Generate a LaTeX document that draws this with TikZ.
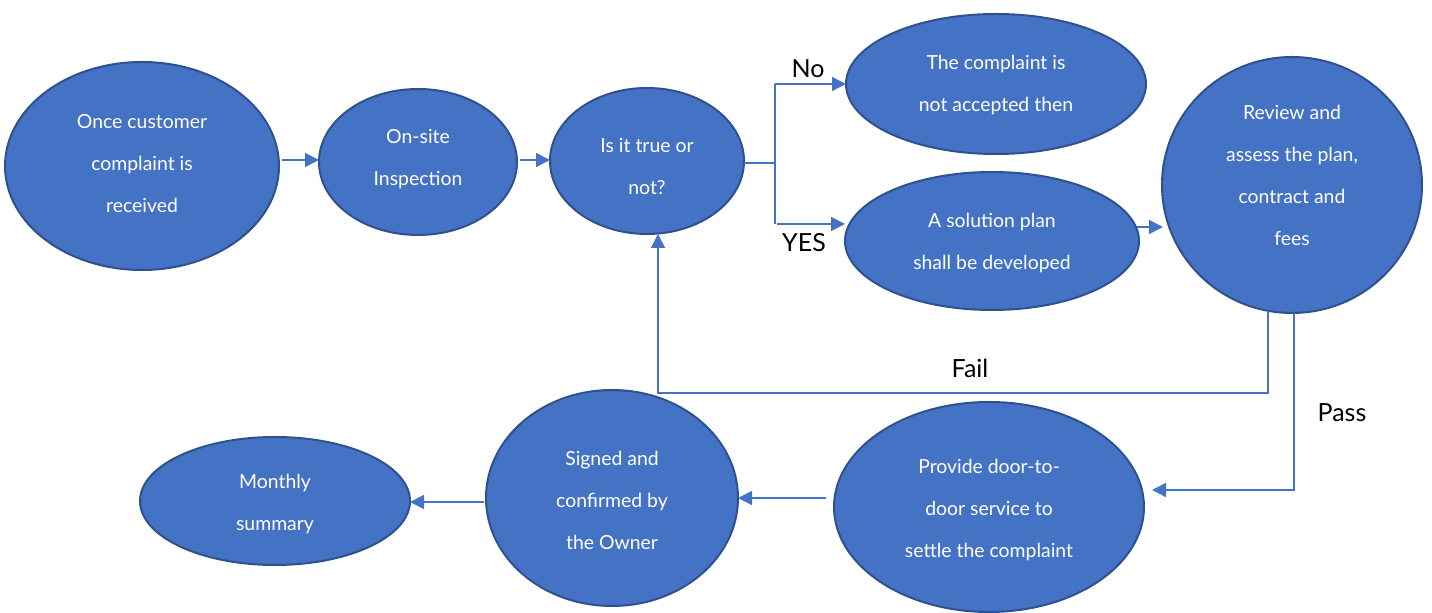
\documentclass[tikz,border=0pt]{standalone}
\usepackage{fontspec}
\setmainfont{Lato}
\usetikzlibrary{arrows.meta,calc,shapes.geometric}

\definecolor{bfill}{HTML}{4472C4}
\definecolor{bedge}{HTML}{2F528F}
\definecolor{lineblue}{HTML}{4472C4}

\tikzset{
  stage/.style={ellipse, draw=bedge, line width=1pt, fill=bfill,
    inner sep=0pt, outer sep=0pt},
  stagetext/.style={text=white, font=\fontsize{9.7}{21}\selectfont,
    align=center, inner sep=0pt},
  conn/.style={draw=lineblue, line width=0.75pt,
    -{Triangle[length=7pt,width=7pt]}},
  plain/.style={draw=lineblue, line width=0.75pt},
  tag/.style={font=\fontsize{12.5}{14}\selectfont, text=black}
}

\begin{document}
\begin{tikzpicture}[x=0.5pt, y=-0.5pt]
  \useasboundingbox (0,0) rectangle (1432,613);

  % stages of the complaint procedure
  \node[stage, minimum width=137pt, minimum height=104pt] (recv) at (142,166) {};
  \node[stage, minimum width=99pt, minimum height=73pt] (insp) at (418,162) {};
  \node[stage, minimum width=97pt, minimum height=73pt] (true) at (647,161) {};
  \node[stage, minimum width=150pt, minimum height=70pt] (rej) at (996,84) {};
  \node[stage, minimum width=147pt, minimum height=69pt] (plan) at (992,241) {};
  \node[stage, minimum width=130pt, minimum height=128pt] (rev) at (1292,185) {};
  \node[stage, minimum width=155pt, minimum height=105pt] (door) at (989,507) {};
  \node[stage, minimum width=126pt, minimum height=108pt] (sign) at (612,498) {};
  \node[stage, minimum width=135pt, minimum height=64pt] (month) at (275,501) {};

  % texts inside the stages
  \node[stagetext] (recvt) at ($(recv)+(0,-2)$) {Once customer\\complaint is\\received};
  \node[stagetext] (inspt) at ($(insp)+(0,-3)$) {On-site\\Inspection};
  \node[stagetext] (truet) at ($(true)+(0,6)$) {Is it true or\\not?};
  \node[stagetext] (rejt) at ($(rej)+(0,1)$) {The complaint is\\not accepted then};
  \node[stagetext] (plant) at ($(plan)+(0,2)$) {A solution plan\\shall be developed};
  \node[stagetext] (revt) at ($(rev)+(0,-10)$) {Review and\\assess the plan,\\contract and\\fees};
  \node[stagetext] (doort) at ($(door)+(0,3)$) {Provide door-to-\\door service to\\settle the complaint};
  \node[stagetext] (signt) at ($(sign)+(0,2)$) {Signed and\\confirmed by\\the Owner};
  \node[stagetext] (montht) at ($(month)+(0,3)$) {Monthly\\summary};

  % straight connectors
  \draw[conn] ([xshift=1.5pt]recv.east |- 0,160) -- (insp.west |- 0,160);
  \draw[conn] ([xshift=1.5pt]insp.east |- 0,160) -- (true.west |- 0,160);
  \draw[conn] ([xshift=-4pt]door.west |- 0,498) -- (sign.east |- 0,498);
  \draw[conn] ([xshift=-1pt]sign.west |- 0,502) -- (month.east |- 0,502);

  % decision branch
  \coordinate (split) at (775,163);
  \coordinate (noturn) at (775,84);
  \coordinate (yesturn) at (777,224);
  \draw[plain] (true.east |- split) -- (split);
  \draw[plain] (noturn) -- (775,224);
  \draw[conn] (noturn) -- (rej.west |- noturn);
  \draw[conn] (yesturn) -- (plan.west |- yesturn);
  \node[tag] (nolab) at (808,69) {No};
  \node[tag] (yeslab) at (804,243) {YES};

  % plan to review
  \coordinate (pr) at (1137,227);
  \draw[conn] (pr) -- (1163,227);

  % review outcome: fail
  \coordinate (failstart) at ($(rev.south)+(-24,-2)$);
  \coordinate (failturn) at (1268,393);
  \draw[conn] (failstart) -- (failturn) -- (658,393) -- (true.south -| 658,0);
  \node[tag] (faillab) at (970,368) {Fail};

  % review outcome: pass
  \coordinate (passstart) at ($(rev.south)+(2,0)$);
  \coordinate (passend) at (1152,490);
  \draw[conn] (passstart) -- (1294,490) -- (passend);
  \node[tag] (passlab) at (1342,413) {Pass};
\end{tikzpicture}
\end{document}
